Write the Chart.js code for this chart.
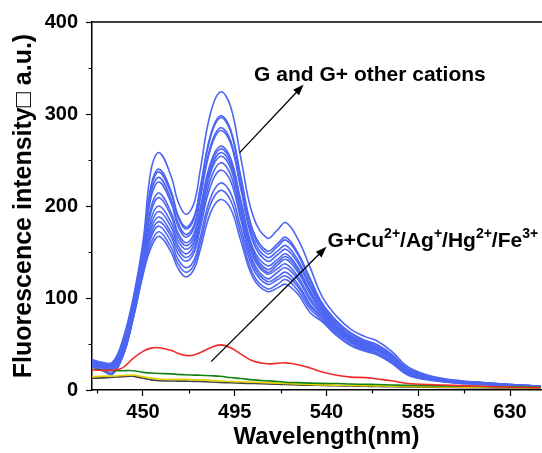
<!DOCTYPE html>
<html>
<head>
<meta charset="utf-8">
<script src="https://cdn.jsdelivr.net/npm/chart.js@4.4.0/dist/chart.umd.min.js"></script>
<style>
  html, body { margin: 0; padding: 0; background: #fff; overflow: hidden; }
  #wrap { width: 561px; height: 453px; }
</style>
</head>
<body>
<div id="wrap"><canvas id="spectra" width="561" height="453"></canvas></div>
<script>
// Fluorescence spectra of G with various cations

const wavelengths = [425, 430, 435, 440, 445, 450, 454, 458, 464, 467, 471, 475, 478, 483, 488, 493, 498, 504,
  511, 516, 520, 526, 532, 538, 545, 552, 559, 565, 572, 580, 590, 602, 616, 630, 645];

// G and G + other cations (blue)
const gOtherCations = [
  [33, 30, 30, 54, 98, 161, 240, 258, 231, 206, 191, 203, 238, 300, 324, 308, 252, 189, 165, 174, 182, 164, 133, 101, 80, 66, 58, 53, 42, 25, 16, 11, 8, 6, 4],
  [31, 28, 29, 50, 94, 154, 223, 240, 215, 191, 177, 188, 219, 276, 298, 283, 232, 173, 151, 159, 166, 149, 121, 94, 75, 62, 54, 49, 39, 23, 15, 10, 8, 6, 4],
  [29, 27, 28, 50, 93, 152, 220, 237, 212, 189, 175, 186, 217, 274, 296, 281, 229, 170, 148, 156, 163, 147, 119, 93, 74, 61, 53, 49, 38, 23, 15, 10, 8, 6, 4],
  [32, 29, 27, 48, 91, 150, 215, 231, 206, 183, 169, 179, 210, 264, 285, 271, 222, 165, 144, 151, 157, 141, 115, 91, 72, 59, 52, 47, 37, 22, 15, 10, 8, 6, 4],
  [28, 26, 27, 47, 90, 148, 210, 226, 202, 179, 166, 176, 207, 261, 282, 268, 218, 161, 140, 147, 153, 138, 112, 89, 71, 58, 51, 46, 37, 21, 14, 10, 7, 5.5, 3.5],
  [30, 27, 25, 45, 87, 143, 199, 214, 192, 172, 160, 170, 197, 246, 265, 252, 206, 154, 135, 142, 148, 133, 108, 87, 69, 57, 50, 45, 36, 21, 14, 10, 7, 5.5, 3.5],
  [27, 24, 22, 44, 85, 142, 194, 209, 188, 168, 157, 166, 194, 243, 262, 249, 203, 151, 131, 139, 145, 131, 106, 86, 68, 56, 49, 44, 35, 20, 14, 10, 7, 5.5, 3.5],
  [31, 28, 26, 43, 83, 138, 186, 200, 181, 163, 153, 162, 190, 239, 258, 245, 200, 148, 128, 136, 142, 128, 104, 85, 67, 55, 48, 44, 35, 20, 13, 9, 7, 5, 3.5],
  [26, 22, 19, 41, 82, 136, 180, 194, 176, 158, 148, 158, 185, 235, 254, 241, 196, 145, 126, 132, 137, 123, 100, 83, 66, 54, 47, 43, 34, 19, 13, 9, 6.5, 5, 3.5],
  [29, 26, 24, 40, 80, 133, 175, 188, 170, 154, 144, 153, 180, 228, 247, 234, 190, 140, 121, 128, 133, 120, 97, 81, 65, 53, 46, 42, 33, 19, 13, 9, 6.5, 5, 3],
  [25, 21, 17, 38, 78, 131, 170, 183, 166, 149, 140, 149, 175, 221, 239, 227, 185, 136, 118, 123, 128, 115, 93, 79, 63, 52, 45, 40, 32, 18, 12, 9, 6.5, 5, 3],
  [28, 25, 23, 37, 77, 129, 166, 178, 160, 143, 133, 141, 165, 208, 225, 214, 176, 132, 115, 120, 124, 112, 91, 78, 62, 51, 44, 40, 31, 18, 12, 9, 6.5, 5, 3],
  [30, 27, 24, 36, 76, 127, 160, 172, 154, 138, 128, 136, 159, 201, 217, 206, 169, 126, 110, 115, 120, 108, 88, 76, 60, 49, 43, 39, 30, 17, 12, 8, 6, 5, 3],
  [26, 22, 18, 36, 76, 125, 155, 167, 149, 133, 123, 131, 152, 192, 207, 197, 162, 122, 107, 111, 115, 104, 84, 74, 59, 48, 42, 38, 29, 16, 11, 8, 6, 4.5, 3]
];

// G + quenching cations
const quenchRed = [22, 21.5, 21.5, 24, 34, 42, 45.5, 46, 43, 40, 37.5, 38, 40.5, 46, 49, 46, 39, 31.5,
  28.5, 29, 29.5, 27.5, 24, 19.5, 16, 14, 13.5, 12, 10, 7, 6, 5, 4, 3, 2.5];
const quenchGreen = [22.5, 21.5, 21, 21, 21, 19.2, 18.5, 18, 17.5, 17, 16.5, 16.2, 16, 15.5, 15, 13.5, 12.5, 11,
  10, 9.2, 8.5, 8, 7.5, 7.2, 7, 6.5, 6.2, 6, 5.5, 5, 4.7, 4.3, 3.8, 3.3, 3];
const quenchYellow = [14.5, 15, 15.2, 15.8, 16.3, 14.5, 13, 12, 11.6, 11.5, 11.5, 11.2, 11, 10.5, 9.8, 9.3, 9, 8.5,
  8, 7.5, 7, 6.5, 6, 5.5, 5.2, 5, 4.7, 4.5, 4.2, 3.8, 3.5, 3.2, 3, 2.7, 2.5];
const quenchBlack = [12.7, 13.2, 13.8, 14.5, 15, 12.7, 11, 10, 9.8, 9.7, 9.6, 9.4, 9.2, 8.7, 8.3, 7.8, 7.5, 7,
  6.5, 6.2, 6, 5.5, 5.2, 5, 4.6, 4.3, 4, 3.8, 3.5, 3.3, 3, 2.7, 2.4, 2.2, 2];

// Axis ticks
const xTicks = [450, 495, 540, 585, 630];
const xMinorTicks = [427.5, 472.5, 517.5, 562.5, 607.5, 652.5];
const yTicks = [0, 100, 200, 300, 400];
const yMinorTicks = [50, 150, 250, 350];

const FONT = '"Liberation Sans", Arial, sans-serif';

// Annotations (data coordinates)
const notes = [
  { text: [{ t: 'G and G+ other cations' }], x: 504.5, y: 344,
    arrow: { from: [497.4, 258], to: [528.8, 332] } },
  { text: [{ t: 'G+Cu' }, { t: '2+', sup: true }, { t: '/Ag' }, { t: '+', sup: true },
           { t: '/Hg' }, { t: '2+', sup: true }, { t: '/Fe' }, { t: '3+', sup: true }],
    x: 540.5, y: 164,
    arrow: { from: [483.4, 30.8], to: [540, 155.6] } }
];

function toPoints(values) {
  return wavelengths.map((w, i) => ({ x: w, y: values[i] }));
}

const datasets = [
  { data: toPoints(quenchRed), borderColor: '#f22a2a' },
  { data: toPoints(quenchGreen), borderColor: '#128212' },
  { data: toPoints(quenchYellow), borderColor: '#e8d200' },
  { data: toPoints(quenchBlack), borderColor: '#444444' }
];
gOtherCations.forEach(series => {
  datasets.push({ data: toPoints(series), borderColor: '#4d66f2' });
});
datasets.forEach(ds => {
  ds.borderWidth = 1.6;
  ds.pointRadius = 0;
  ds.fill = false;
  ds.tension = 0.4;
});

// Minor ticks, top frame line and arrow annotations
const decorPlugin = {
  id: 'decor',
  afterDraw(chart) {
    const { ctx, chartArea: a, scales: { x, y } } = chart;
    ctx.save();
    ctx.strokeStyle = '#000';
    ctx.lineWidth = 1.2;
    ctx.beginPath();
    xMinorTicks.forEach(v => {
      const px = Math.round(x.getPixelForValue(v)) + 0.5;
      ctx.moveTo(px, a.bottom);
      ctx.lineTo(px, a.bottom + 3.5);
    });
    yMinorTicks.forEach(v => {
      const py = Math.round(y.getPixelForValue(v)) + 0.5;
      ctx.moveTo(a.left, py);
      ctx.lineTo(a.left - 3.5, py);
    });
    ctx.stroke();

    // top frame
    ctx.lineWidth = 1.5;
    ctx.beginPath();
    ctx.moveTo(a.left, a.top);
    ctx.lineTo(a.right, a.top);
    ctx.stroke();

    notes.forEach(n => {
      const x0 = x.getPixelForValue(n.arrow.from[0]);
      const y0 = y.getPixelForValue(n.arrow.from[1]);
      const x1 = x.getPixelForValue(n.arrow.to[0]);
      const y1 = y.getPixelForValue(n.arrow.to[1]);
      const ang = Math.atan2(y1 - y0, x1 - x0);
      const len = 11, half = 4;
      ctx.lineWidth = 1.3;
      ctx.beginPath();
      ctx.moveTo(x0, y0);
      ctx.lineTo(x1 - Math.cos(ang) * len * 0.8, y1 - Math.sin(ang) * len * 0.8);
      ctx.stroke();
      ctx.fillStyle = '#000';
      ctx.beginPath();
      ctx.moveTo(x1, y1);
      ctx.lineTo(x1 - Math.cos(ang) * len - Math.sin(ang) * half, y1 - Math.sin(ang) * len + Math.cos(ang) * half);
      ctx.lineTo(x1 - Math.cos(ang) * len + Math.sin(ang) * half, y1 - Math.sin(ang) * len - Math.cos(ang) * half);
      ctx.closePath();
      ctx.fill();

      // label with superscripts
      let tx = x.getPixelForValue(n.x);
      const ty = y.getPixelForValue(n.y) + 7.5;
      ctx.textBaseline = 'alphabetic';
      ctx.textAlign = 'left';
      n.text.forEach(seg => {
        ctx.font = seg.sup ? 'bold 14px ' + FONT : 'bold 21px ' + FONT;
        ctx.fillText(seg.t, tx, seg.sup ? ty - 8.5 : ty);
        tx += ctx.measureText(seg.t).width;
      });
    });
    ctx.restore();
  }
};

const ctx = document.getElementById('spectra').getContext('2d');
new Chart(ctx, {
  type: 'line',
  data: { datasets: datasets },
  options: {
    responsive: false,
    animation: false,
    events: [],
    layout: { padding: { top: 22, left: 0, right: 0, bottom: 0 } },
    plugins: {
      legend: { display: false },
      tooltip: { enabled: false }
    },
    scales: {
      x: {
        type: 'linear',
        min: 425,
        max: 655,
        afterBuildTicks: scale => { scale.ticks = xTicks.map(v => ({ value: v })); },
        afterFit: scale => { scale.height = 63; },
        border: { display: true, color: '#000', width: 1.5 },
        grid: { drawOnChartArea: false, drawTicks: true, tickLength: 6, tickColor: '#000', tickWidth: 1.2 },
        ticks: {
          color: '#000',
          padding: 4,
          maxRotation: 0,
          font: { family: FONT, size: 20, weight: 'bold' }
        },
        title: {
          display: true,
          text: 'Wavelength(nm)',
          color: '#000',
          padding: { top: 0, bottom: 1 },
          font: { family: FONT, size: 24, weight: 'bold' }
        }
      },
      y: {
        type: 'linear',
        min: 0,
        max: 400,
        afterBuildTicks: scale => { scale.ticks = yTicks.map(v => ({ value: v })); },
        afterFit: scale => { scale.width = 92; },
        border: { display: true, color: '#000', width: 1.5 },
        grid: { drawOnChartArea: false, drawTicks: true, tickLength: 6, tickColor: '#000', tickWidth: 1.2 },
        ticks: {
          color: '#000',
          padding: 8,
          font: { family: FONT, size: 20, weight: 'bold' }
        },
        title: {
          display: true,
          text: 'Fluorescence intensity\u25A1 a.u.)',
          color: '#000',
          padding: { top: 9, bottom: 0 },
          font: { family: FONT, size: 25, weight: 'bold' }
        }
      }
    }
  },
  plugins: [decorPlugin]
});
</script>
</body>
</html>
